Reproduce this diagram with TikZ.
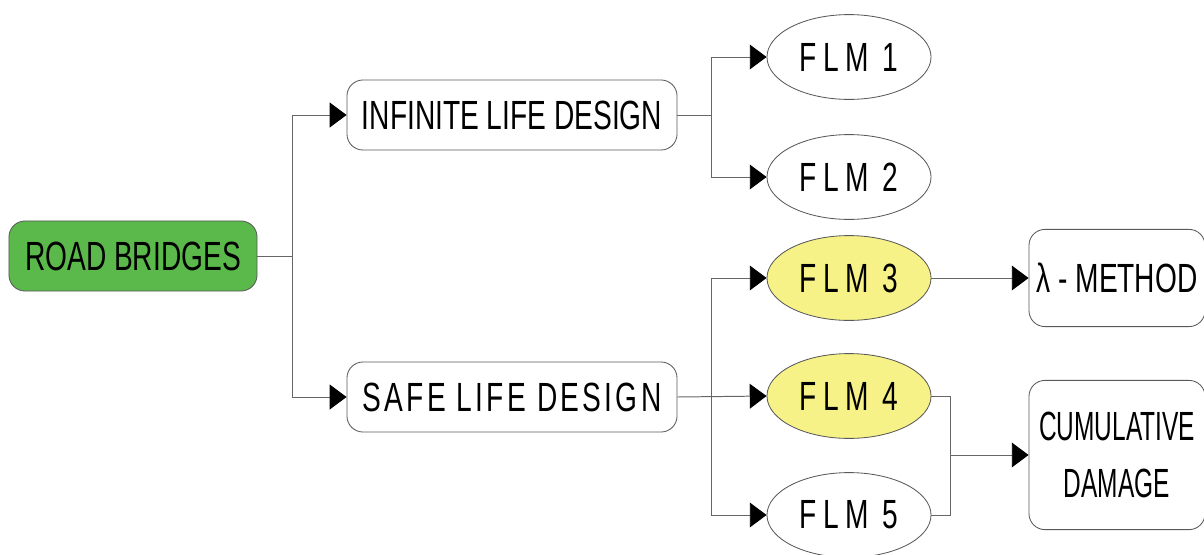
\documentclass[tikz,border=0pt]{standalone}
\usepackage{fontspec}
\setmainfont[FakeStretch=0.69]{Liberation Sans}
\newfontfamily\spreadfont[FakeStretch=0.69,LetterSpace=8]{Liberation Sans}
\newfontfamily\widefont[FakeStretch=0.69,LetterSpace=15]{Liberation Sans}
\newfontfamily\narrowfont[FakeStretch=0.6]{Liberation Sans}
\usetikzlibrary{arrows.meta,shapes.geometric}

\definecolor{rootgreen}{HTML}{5AB94A}
\definecolor{flmyellow}{HTML}{F6F287}

\begin{document}
\begin{tikzpicture}[x=0.025cm,y=-0.025cm,
  every node/.style={font=\fontsize{29}{36}\selectfont},
  box/.style={draw=black!65,line width=.6pt,rounded corners=.4cm,inner sep=0pt,
    minimum height=1.75cm},
  flm/.style={ellipse,draw=black!65,line width=.6pt,inner sep=0pt,
    minimum width=4.1cm,minimum height=2.12cm},
  link/.style={draw=black!60,line width=.7pt},
  arr/.style={link,-{Triangle[length=.42cm,width=.62cm,black]}}]
\useasboundingbox (0,0) rectangle (1204,554);

% root and the two design routes
\node[box,fill=rootgreen,minimum width=6.2cm] (root) at (133,256) {ROAD BRIDGES};
\node[box,minimum width=8.25cm] (inf) at (512,115) {INFINITE LIFE DESIGN};
\node[box,minimum width=8.25cm] (safe) at (512,397) {\spreadfont SAFE LIFE DESIGN};

% fatigue load models
\node[flm] (f1) at (849,57) {\widefont FLM 1};
\node[flm] (f2) at (849,177) {\widefont FLM 2};
\node[flm,fill=flmyellow] (f3) at (849,278) {\widefont FLM 3};
\node[flm,fill=flmyellow] (f4) at (849,396) {\widefont FLM 4};
\node[flm] (f5) at (849,515) {\widefont FLM 5};

% verification methods
\node[box,minimum width=4.4cm,minimum height=2.43cm] (meth) at (1117,278)
  {λ - METHOD};
\node[box,minimum width=4.4cm,minimum height=3.73cm,align=center] (cum) at (1117,455)
  {\narrowfont CUMULATIVE\\[5pt]\narrowfont DAMAGE};

\coordinate (j1) at (292,256);
\coordinate (j2) at (711,115);
\coordinate (j3) at (711,397);
\coordinate (j4) at (950,455);

\draw[link] (root.east) -- (j1);
\draw[arr] (j1) |- (inf.west);
\draw[arr] (j1) |- (safe.west);

\draw[link] (inf.east) -- (j2);
\draw[arr] (j2) |- (f1.west);
\draw[arr] (j2) |- (f2.west);

\draw[arr] (safe.east) -- (f4.west);
\draw[arr] (j3) |- (f3.west);
\draw[arr] (j3) |- (f5.west);

\draw[arr] (f3.east) -- (meth.west);
\draw[link] (f4.east) -| (j4);
\draw[link] (f5.east) -| (j4);
\draw[arr] (j4) -- (cum.west);
\end{tikzpicture}
\end{document}
